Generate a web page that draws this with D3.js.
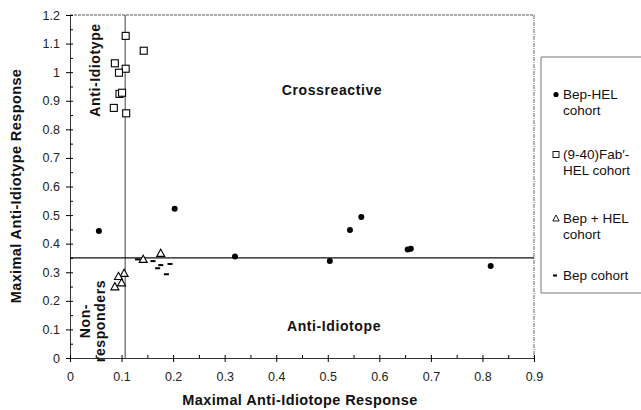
<!DOCTYPE html>
<html>
<head>
<meta charset="utf-8">
<script src="https://cdn.jsdelivr.net/npm/d3@7"></script>
<style>
  body { margin: 0; background: #fff; }
  svg { font-family: "Liberation Sans", Arial, sans-serif; }
  .tick text { font-size: 12.5px; fill: #222; }
  .domain { stroke: #333; }
</style>
</head>
<body>
<div id="chart"></div>
<script>
// values: [anti-idiotope, anti-idiotype]
var bepHel = [[0.056, 0.444], [0.203, 0.522], [0.320, 0.355], [0.504, 0.339],
              [0.543, 0.448], [0.565, 0.493], [0.655, 0.380], [0.661, 0.382], [0.816, 0.322]];
var fabHel = [[0.108, 1.127], [0.143, 1.075], [0.087, 1.031], [0.108, 1.012], [0.095, 0.998],
              [0.096, 0.924], [0.101, 0.928], [0.085, 0.875], [0.109, 0.856]];
var bepPlusHel = [[0.176, 0.366], [0.142, 0.345], [0.105, 0.296], [0.094, 0.285],
                  [0.100, 0.263], [0.087, 0.249]];
var bepOnly = [[0.131, 0.345], [0.161, 0.339], [0.176, 0.325], [0.194, 0.329],
               [0.170, 0.314], [0.187, 0.293]];

var xTicks = [0, 0.1, 0.2, 0.3, 0.4, 0.5, 0.6, 0.7, 0.8, 0.9];
var xTickLabels = ["0", "0.1", "0.2", "0.3", "0.4", "0.5", "0.6", "0.7", "0.8", "0.9"];
var yTicks = [0, 0.1, 0.2, 0.3, 0.4, 0.5, 0.6, 0.7, 0.8, 0.9, 1, 1.1, 1.2];
var yTickLabels = ["0", "0.1", "0.2", "0.3", "0.4", "0.5", "0.6", "0.7", "0.8", "0.9", "1", "1.1", "1.2"];

var cutX = 0.107;   // anti-idiotope threshold
var cutY = 0.35;    // anti-idiotype threshold

var legendItems = [
  {key: "circle", lines: ["Bep-HEL", "cohort"]},
  {key: "square", lines: ["(9-40)Fab\u2032-", "HEL cohort"]},
  {key: "triangle", lines: ["Bep + HEL", "cohort"]},
  {key: "dash", lines: ["Bep cohort"]}
];

var W = 641, H = 410;
var svg = d3.select("#chart").append("svg").attr("width", W).attr("height", H);

var x = d3.scaleLinear().domain([0, 0.9]).range([70, 534]);
var y = d3.scaleLinear().domain([0, 1.2]).range([358, 15]);

function minorTicks(max) {
  var t = [];
  for (var i = 0; i <= Math.round(max / 0.05); i++) t.push(+(i * 0.05).toFixed(2));
  return t;
}

// frame top / right (scanned, light dashed)
svg.append("line").attr("x1", x(0)).attr("x2", x(0.9)).attr("y1", y(1.2)).attr("y2", y(1.2))
  .attr("stroke", "#555").attr("stroke-dasharray", "3,1");
svg.append("line").attr("x1", x(0.9)).attr("x2", x(0.9)).attr("y1", y(1.2)).attr("y2", y(0))
  .attr("stroke", "#666").attr("stroke-dasharray", "4,1,1,1");

// y axis
svg.append("g").attr("transform", "translate(" + x(0) + ",0)")
  .call(d3.axisLeft(y).tickValues(yTicks).tickSize(4)
    .tickFormat(function(d, i) { return yTickLabels[i]; }))
  .call(function(g) { g.selectAll(".tick text").attr("x", -10); });
svg.append("g").attr("transform", "translate(" + x(0) + ",0)")
  .call(d3.axisRight(y).tickValues(minorTicks(1.2)).tickSize(3).tickFormat(""))
  .call(function(g) { g.select(".domain").remove(); });

// x axis
svg.append("g").attr("transform", "translate(0," + y(0) + ")")
  .call(d3.axisBottom(x).tickValues(xTicks).tickSize(4)
    .tickFormat(function(d, i) { return xTickLabels[i]; }))
  .call(function(g) { g.selectAll(".tick text").attr("y", 14); });
svg.append("g").attr("transform", "translate(0," + y(0) + ")")
  .call(d3.axisTop(x).tickValues(minorTicks(0.9)).tickSize(3).tickFormat(""))
  .call(function(g) { g.select(".domain").remove(); });

// threshold lines
svg.append("line").attr("x1", x(cutX)).attr("x2", x(cutX)).attr("y1", y(1.2)).attr("y2", y(0))
  .attr("stroke", "#444").attr("stroke-width", 1);
svg.append("line").attr("x1", x(0)).attr("x2", x(0.9)).attr("y1", y(cutY)).attr("y2", y(cutY))
  .attr("stroke", "#111").attr("stroke-width", 1.3);

// markers
var triPath = "M0,-4.2L4,3L-4,3Z";

svg.append("g").selectAll("circle").data(bepHel).enter().append("circle")
  .attr("cx", function(d) { return x(d[0]); })
  .attr("cy", function(d) { return y(d[1]); })
  .attr("r", 3).attr("fill", "#000");

svg.append("g").selectAll("rect").data(fabHel).enter().append("rect")
  .attr("x", function(d) { return x(d[0]) - 3.5; })
  .attr("y", function(d) { return y(d[1]) - 3.5; })
  .attr("width", 7).attr("height", 7)
  .attr("fill", "#fff").attr("stroke", "#000").attr("stroke-width", 1.1);

svg.append("g").selectAll("path").data(bepPlusHel).enter().append("path")
  .attr("transform", function(d) { return "translate(" + x(d[0]) + "," + y(d[1]) + ")"; })
  .attr("d", triPath)
  .attr("fill", "#fff").attr("stroke", "#000").attr("stroke-width", 1.1);

svg.append("g").selectAll("rect").data(bepOnly).enter().append("rect")
  .attr("x", function(d) { return x(d[0]) - 2.5; })
  .attr("y", function(d) { return y(d[1]) - 1; })
  .attr("width", 5).attr("height", 2).attr("fill", "#000");

// region labels
function boldLabel(sel, size) {
  return sel.attr("text-anchor", "middle").style("font-size", size + "px")
    .style("font-weight", "bold").style("letter-spacing", "0.6px").attr("fill", "#111");
}
boldLabel(svg.append("text").attr("x", 332).attr("y", 95), 14).text("Crossreactive");
boldLabel(svg.append("text").attr("x", 334).attr("y", 331), 14).text("Anti-Idiotope");
boldLabel(svg.append("text").attr("transform", "translate(100,70) rotate(-90)"), 14).text("Anti-Idiotype");
var nr = boldLabel(svg.append("text").attr("transform", "translate(90,321) rotate(-90)"), 14);
nr.append("tspan").attr("x", 0).attr("dy", 0).text("Non-");
nr.append("tspan").attr("x", 0).attr("dy", 15).text("responders");

// axis titles
svg.append("text").attr("x", 300).attr("y", 405).attr("text-anchor", "middle")
  .style("font-size", "14.5px").style("font-weight", "bold").style("letter-spacing", "0.4px")
  .attr("fill", "#111").text("Maximal Anti-Idiotope Response");
svg.append("text").attr("transform", "translate(21,186) rotate(-90)").attr("text-anchor", "middle")
  .style("font-size", "14.5px").style("font-weight", "bold").style("letter-spacing", "0.4px")
  .attr("fill", "#111").text("Maximal Anti-Idiotype Response");

// legend
var lg = svg.append("g");
lg.append("path").attr("d", "M648,57H541V293H648").attr("fill", "none")
  .attr("stroke", "#777").attr("stroke-width", 1);
var legY = [99, 159, 223, 280];
legendItems.forEach(function(item, i) {
  var g = lg.append("g").attr("transform", "translate(556," + legY[i] + ")");
  if (item.key === "circle") g.append("circle").attr("cy", -4.5).attr("r", 2.6).attr("fill", "#000");
  if (item.key === "square") g.append("rect").attr("x", -3).attr("y", -7.5).attr("width", 6).attr("height", 6)
    .attr("fill", "#fff").attr("stroke", "#000").attr("stroke-width", 0.9);
  if (item.key === "triangle") g.append("path").attr("d", "M0,-8L3.2,-2L-3.2,-2Z")
    .attr("fill", "#fff").attr("stroke", "#000").attr("stroke-width", 0.9);
  if (item.key === "dash") g.append("rect").attr("x", -3).attr("y", -5.5).attr("width", 4).attr("height", 2).attr("fill", "#000");
  var t = g.append("text").attr("x", 7).style("font-size", "13.5px").attr("fill", "#111");
  item.lines.forEach(function(l, j) {
    t.append("tspan").attr("x", 7).attr("dy", j === 0 ? 0 : 16).text(l);
  });
});
</script>
</body>
</html>
